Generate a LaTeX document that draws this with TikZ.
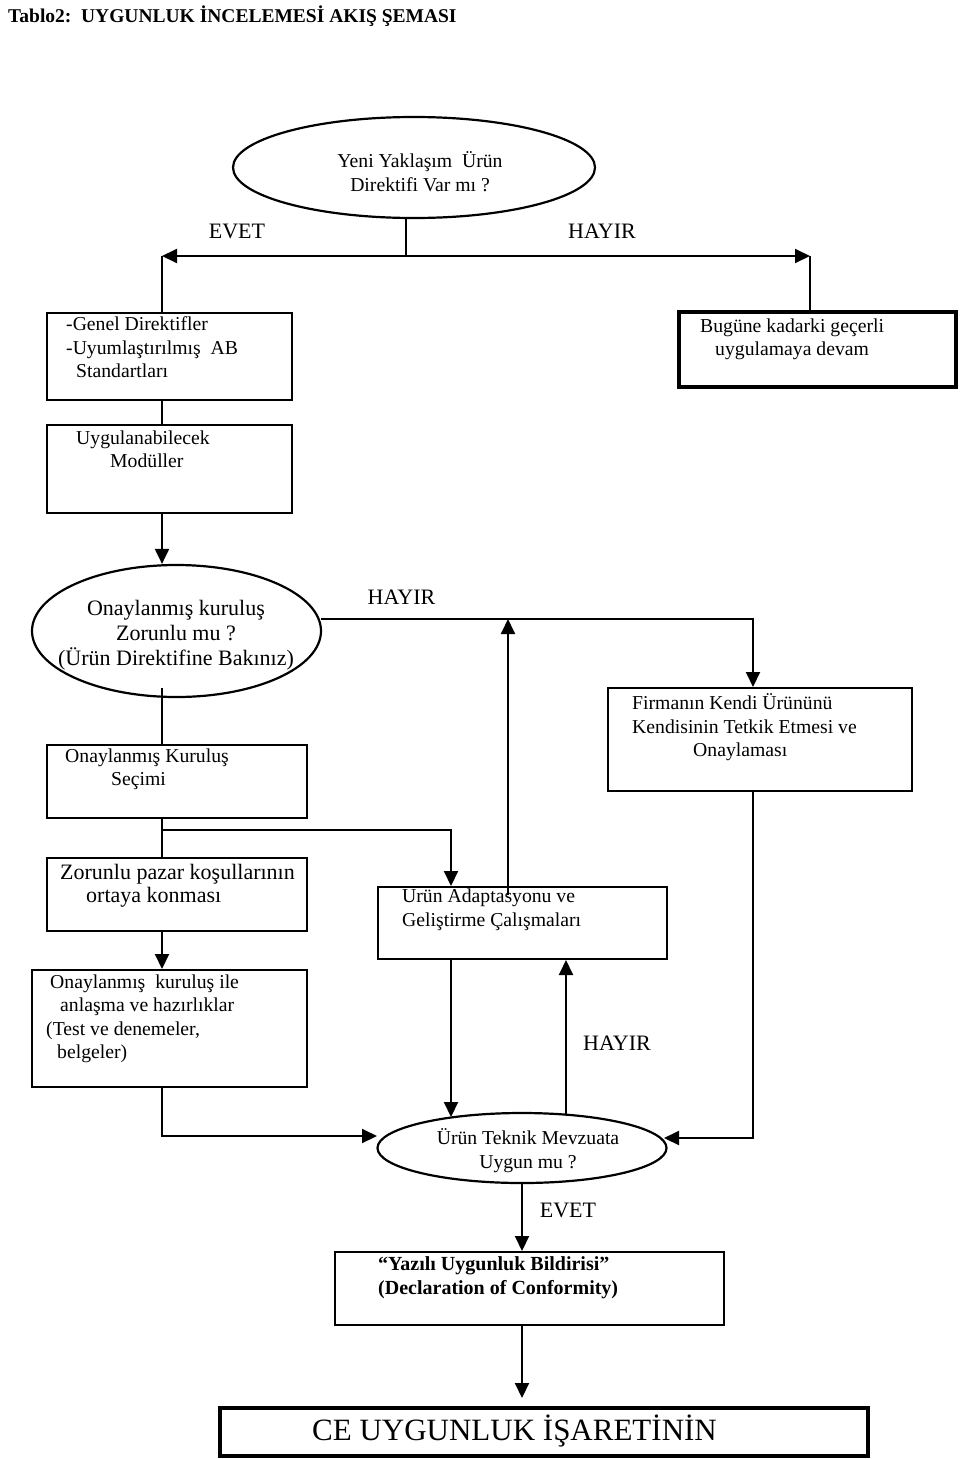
\documentclass[tikz,border=0pt]{standalone}
\usepackage{fontspec}
\setmainfont{Liberation Serif}
\usetikzlibrary{arrows.meta,shapes.geometric}
\tikzset{
  ln/.style={line width=2pt},
  arr/.style={line width=2pt,-{Triangle[length=15pt,width=14pt]}},
  box/.style={draw,line width=2pt,rectangle,inner sep=0pt},
  thickbox/.style={draw,line width=4.5pt,rectangle,inner sep=0pt},
  oval/.style={draw,line width=2.2pt,ellipse,inner sep=0pt},
  txt/.style={inner sep=0pt,anchor=north west,align=left,font=\fontsize{19.7}{23.3}\selectfont},
  ctxt/.style={inner sep=0pt,anchor=north,align=center,font=\fontsize{19.7}{23.3}\selectfont},
  lbl/.style={inner sep=0pt,anchor=base,font=\fontsize{22}{25}\selectfont}
}
\begin{document}
\begin{tikzpicture}[x=1pt,y=-1pt]
\useasboundingbox[fill=white] (0,0) rectangle (960,1459);

% title
\node[inner sep=0pt,anchor=base west,font=\fontsize{19.5}{23}\selectfont\bfseries] (title) at (8,22) {Tablo2:\ \ UYGUNLUK İNCELEMESİ AKIŞ ŞEMASI};

% shapes
\node[oval,minimum width=362pt,minimum height=101pt] (e1) at (414,167.5) {};
\node[box,minimum width=245pt,minimum height=87pt] (b1) at (169.5,356.5) {};
\node[thickbox,minimum width=277pt,minimum height=75pt] (b2) at (817.5,349.5) {};
\node[box,minimum width=245pt,minimum height=88pt] (b3) at (169.5,469) {};
\node[oval,minimum width=289pt,minimum height=132pt] (e2) at (176.5,631) {};
\node[box,minimum width=260pt,minimum height=73pt] (b4) at (177,781.5) {};
\node[box,minimum width=304pt,minimum height=103pt] (b5) at (760,739.5) {};
\node[box,minimum width=260pt,minimum height=73pt] (b9) at (177,894.5) {};
\node[box,minimum width=289pt,minimum height=72pt] (b6) at (522.5,923) {};
\node[box,minimum width=275pt,minimum height=117pt] (b10) at (169.5,1028.5) {};
\node[oval,minimum width=289pt,minimum height=70pt] (e3) at (522,1148) {};
\node[box,minimum width=389pt,minimum height=73pt] (b8) at (529.5,1288.5) {};
\node[thickbox,minimum width=648pt,minimum height=48pt] (ce) at (544,1432) {};

% texts
\node[ctxt] (e1t) at (420,151.7) {Yeni Yaklaşım\ \ Ürün\\Direktifi Var mı ?};
\node[lbl] (evet1) at (237,238) {EVET};
\node[lbl] (hayir1) at (602,238) {HAYIR};
\node[txt] (b1t) at (66,316.7) {-Genel Direktifler\\-Uyumlaştırılmış\ \ AB\\\hspace*{10pt}Standartları};
\node[txt] (b2t) at (700,318.7) {Bugüne kadarki geçerli\\\hspace*{15pt}uygulamaya devam};
\node[txt] (b3t) at (76,430.7) {Uygulanabilecek\\\hspace*{34pt}Modüller};
\node[inner sep=0pt,anchor=north,align=center,font=\fontsize{22}{25}\selectfont] (e2t) at (176,600.5) {Onaylanmış kuruluş\\Zorunlu mu ?\\(Ürün Direktifine Bakınız)};
\node[lbl] (hayir2) at (401.5,604) {HAYIR};
\node[txt] (b4t) at (65,748.7) {Onaylanmış Kuruluş\\\hspace*{46pt}Seçimi};
\node[txt] (b5t) at (632,693.7) {Firmanın Kendi Ürününü\\Kendisinin Tetkik Etmesi ve\\\hspace*{61pt}Onaylaması};
\node[inner sep=0pt,anchor=north west,align=left,font=\fontsize{22}{23}\selectfont] (b9t) at (60,863.9) {Zorunlu pazar koşullarının\\\hspace*{26pt}ortaya konması};
\node[txt] (b6t) at (402,886.7) {Ürün Adaptasyonu ve\\Geliştirme Çalışmaları};
\node[txt] (b10t) at (46,974.7) {\hspace*{4pt}Onaylanmış\ \ kuruluş ile\\\hspace*{14pt}anlaşma ve hazırlıklar\\(Test ve denemeler,\\\hspace*{11pt}belgeler)};
\node[lbl] (hayir3) at (617,1050) {HAYIR};
\node[ctxt] (e3t) at (528,1128.7) {Ürün Teknik Mevzuata\\Uygun mu ?};
\node[lbl] (evet2) at (568,1217) {EVET};
\node[inner sep=0pt,anchor=north west,align=left,font=\fontsize{20}{24}\selectfont\bfseries] (b8t) at (378,1256.2) {“Yazılı Uygunluk Bildirisi”\\(Declaration of Conformity)};
\node[inner sep=0pt,anchor=base west,font=\fontsize{31}{36}\selectfont] (cet) at (312,1440) {CE UYGUNLUK İŞARETİNİN};

% connector coordinates
\coordinate (j0) at (406,256);
\coordinate (jL) at (162,256);
\coordinate (jR) at (810,256);
\coordinate (j1) at (162,830);
\coordinate (k6) at (451,830);
\coordinate (k7) at (451,1117);
\coordinate (k8) at (566,1115);
\coordinate (j2) at (162,1136);
\coordinate (e3w) at (377,1136);
\coordinate (e2e) at (321,619);
\coordinate (j3) at (753,619);
\coordinate (j4) at (508,619);
\coordinate (k4) at (508,895);
\coordinate (j5) at (753,1138);
\coordinate (e3e) at (664,1138);
\coordinate (ceTop) at (522,1398);
\coordinate (e2in) at (162,688);

% connectors
\draw[ln] (j0 |- e1.south) -- (j0);
\draw[arr] (j0) -- (jL);
\draw[arr] (j0) -- (jR);
\draw[ln] (jL) -- (jL |- b1.north);
\draw[ln] (jR) -- (jR |- b2.north);
\draw[ln] (jL |- b1.south) -- (jL |- b3.north);
\draw[arr] (jL |- b3.south) -- (jL |- e2.north);
\draw[ln] (e2in) -- (jL |- b4.north);
\draw[ln] (jL |- b4.south) -- (jL |- b9.north);
\draw[arr] (j1) -- (k6) -- (k6 |- b6.north);
\draw[arr] (jL |- b9.south) -- (jL |- b10.north);
\draw[arr] (jL |- b10.south) -- (j2) -- (e3w);
\draw[arr] (e2e) -- (j3) -- (j3 |- b5.north);
\draw[arr] (k4) -- (j4);
\draw[arr] (j3 |- b5.south) -- (j5) -- (e3e);
\draw[arr] (k6 |- b6.south) -- (k7);
\draw[arr] (k8) -- (k8 |- b6.south);
\draw[arr] (e3.south) -- (e3.south |- b8.north);
\draw[arr] (e3.south |- b8.south) -- (ceTop);
\end{tikzpicture}
\end{document}
